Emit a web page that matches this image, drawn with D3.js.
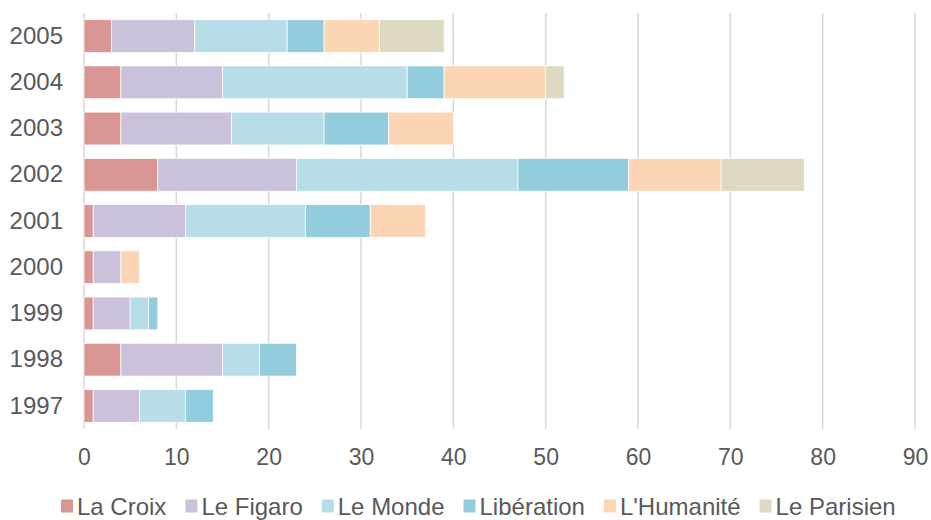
<!DOCTYPE html>
<html>
<head>
<meta charset="utf-8">
<script src="https://cdn.jsdelivr.net/npm/d3@7"></script>
<style>
  body { margin: 0; background: #fff; }
  text { font-family: "Liberation Sans", Arial, sans-serif; fill: #595959; }
</style>
</head>
<body>
<svg width="931" height="520"></svg>
<script>
// data
var years = ['2005', '2004', '2003', '2002', '2001', '2000', '1999', '1998', '1997'];
var papers = ['La Croix', 'Le Figaro', 'Le Monde', 'Libération', "L'Humanité", 'Le Parisien'];
var laCroix    = [3, 4, 4, 8, 1, 1, 1, 4, 1];
var leFigaro   = [9, 11, 12, 15, 10, 3, 4, 11, 5];
var leMonde    = [10, 20, 10, 24, 13, 0, 2, 4, 5];
var liberation = [4, 4, 7, 12, 7, 0, 1, 4, 3];
var humanite   = [6, 11, 7, 10, 6, 2, 0, 0, 0];
var parisien   = [7, 2, 0, 9, 0, 0, 0, 0, 0];
var xTicks = [0, 10, 20, 30, 40, 50, 60, 70, 80, 90];

var colors = ['#d99694', '#ccc1da', '#b7dde8', '#93cddd', '#fcd5b5', '#ddd9c3'];

var svg = d3.select('svg');

var padding = {t: 13, r: 16, b: 91, l: 84};
var chartWidth = +svg.attr('width') - padding.l - padding.r;
var chartHeight = +svg.attr('height') - padding.t - padding.b;

var chartG = svg.append('g')
    .attr('transform', 'translate(' + [padding.l, padding.t] + ')');

var xScale = d3.scaleLinear().domain([0, 90]).range([0, chartWidth]);
var yScale = d3.scaleBand().domain(years).range([0, chartHeight]).paddingInner(0.29).paddingOuter(0.145);

// build rows for the stack
var seriesCols = [laCroix, leFigaro, leMonde, liberation, humanite, parisien];
var rows = years.map(function(y, i) {
    var r = {year: y};
    papers.forEach(function(p, j) { r[p] = seriesCols[j][i]; });
    return r;
});
var stacked = d3.stack().keys(papers)(rows);

// gridlines
chartG.append('g').selectAll('line')
    .data(xTicks)
    .enter().append('line')
    .attr('x1', function(d) { return xScale(d); })
    .attr('x2', function(d) { return xScale(d); })
    .attr('y1', 0)
    .attr('y2', chartHeight)
    .style('stroke', '#d9d9d9')
    .style('stroke-width', 1.5);

// bars
chartG.selectAll('.series')
    .data(stacked)
    .enter().append('g')
    .attr('class', 'series')
    .style('fill', function(d, i) { return colors[i]; })
    .selectAll('rect')
    .data(function(d) { return d.filter(function(p) { return p[1] > p[0]; }); })
    .enter().append('rect')
    .attr('x', function(d) { return xScale(d[0]); })
    .attr('width', function(d) { return xScale(d[1]) - xScale(d[0]); })
    .attr('y', function(d) { return yScale(d.data.year); })
    .attr('height', yScale.bandwidth())
    .style('stroke', '#fff')
    .style('stroke-width', 0.75);

// x axis labels
var xAxisG = chartG.append('g')
    .attr('transform', 'translate(' + [0, chartHeight] + ')')
    .call(d3.axisBottom(xScale).tickValues(xTicks).tickSize(0).tickPadding(20));
xAxisG.select('.domain').remove();
xAxisG.selectAll('text')
    .style('font-size', '23px')
    .style('font-family', '"Liberation Sans", Arial, sans-serif')
    .attr('fill', '#595959');

// y axis labels
var yAxisG = chartG.append('g')
    .call(d3.axisLeft(yScale).tickSize(0).tickPadding(21));
yAxisG.select('.domain').remove();
yAxisG.selectAll('text')
    .style('font-size', '24px')
    .style('font-family', '"Liberation Sans", Arial, sans-serif')
    .attr('fill', '#595959');

// legend (nudged up a little so descenders stay inside the page)
var legendG = svg.append('g').attr('transform', 'translate(61, 506)');
var lx = 0;
papers.forEach(function(p, i) {
    var item = legendG.append('g').attr('transform', 'translate(' + lx + ',0)');
    item.append('rect')
        .attr('x', 0).attr('y', -6.5)
        .attr('width', 12).attr('height', 13)
        .style('fill', colors[i]);
    var t = item.append('text')
        .attr('x', 16).attr('dy', '0.36em')
        .style('font-size', '24px')
        .text(p);
    lx += 16 + t.node().getComputedTextLength() + 19;
});
</script>
</body>
</html>
